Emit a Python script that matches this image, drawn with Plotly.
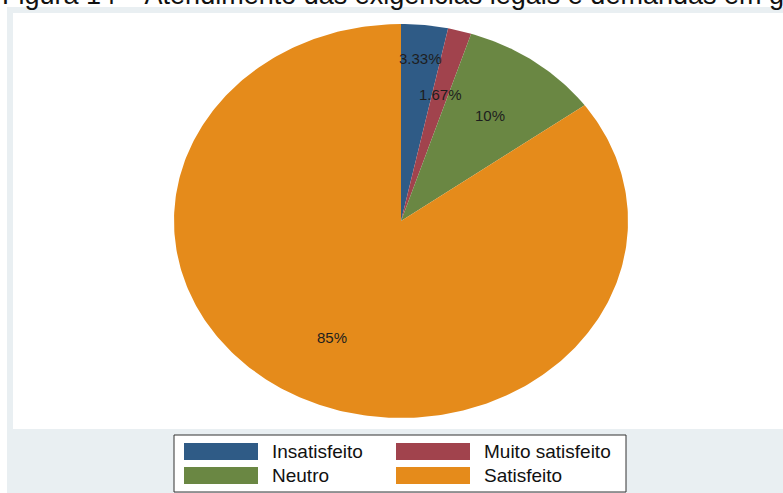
import numpy as np
import plotly.graph_objects as go

# Survey answers and their shares (percent of respondents)
categories = ["Insatisfeito", "Muito satisfeito", "Neutro", "Satisfeito"]
shares = [3.33, 1.67, 10.0, 85.0]
share_labels = ["3.33%", "1.67%", "10%", "85%"]
colors = ["#2f5b86", "#a1434d", "#6a8743", "#e58b1b"]

title_text = "Figura 14 – Atendimento das exigências legais e demandas em geral"

W, H = 783, 493


def px(x):
    return x / W


def py(y):
    return 1 - y / H


fig = go.Figure()

# Slices drawn clockwise from 12 o'clock on a [-1, 1] x [-1, 1] frame
total = sum(shares)
start = 0.0
label_radius = [0.83, 0.665, 0.665, 0.665]
label_pts = []
for cat, val, col in zip(categories, shares, colors):
    a0 = 2 * np.pi * start / total
    a1 = 2 * np.pi * (start + val) / total
    t = np.linspace(a0, a1, max(8, int(400 * val / total)))
    xs = np.concatenate([[0.0], np.sin(t), [0.0]])
    ys = np.concatenate([[0.0], np.cos(t), [0.0]])
    fig.add_trace(go.Scatter(
        x=xs, y=ys, mode="lines", fill="toself", fillcolor=col,
        line=dict(width=0, color=col), name=cat, hoverinfo="name",
        showlegend=False,
    ))
    label_pts.append((a0 + a1) / 2)
    start += val

for i, (mid, txt) in enumerate(zip(label_pts, share_labels)):
    r = label_radius[i]
    fig.add_annotation(
        x=r * np.sin(mid), y=r * np.cos(mid), xref="x", yref="y",
        text=txt, showarrow=False,
        font=dict(size=15, color="#1e1e1e", family="Liberation Sans, Arial"),
    )

shapes = [
    # outer graph region and inner plot region
    dict(type="rect", xref="paper", yref="paper", x0=px(7), x1=px(W + 5),
         y0=py(H + 5), y1=py(7), fillcolor="#e9eff2", line=dict(width=0),
         layer="below"),
    dict(type="rect", xref="paper", yref="paper", x0=px(13), x1=px(W + 5),
         y0=py(429), y1=py(13), fillcolor="#ffffff", line=dict(width=0),
         layer="below"),
    # legend frame
    dict(type="rect", xref="paper", yref="paper", x0=px(174), x1=px(626),
         y0=py(492), y1=py(435), fillcolor="#ffffff",
         line=dict(width=1, color="#333333"), layer="below"),
]

# Legend laid out in two columns
col_x = [184, 396]
row_y = [443, 467]
for i, (cat, col) in enumerate(zip(categories, colors)):
    cx = col_x[i % 2]
    ry = row_y[i // 2]
    shapes.append(dict(type="rect", xref="paper", yref="paper",
                       x0=px(cx), x1=px(cx + 74), y0=py(ry + 17), y1=py(ry),
                       fillcolor=col, line=dict(width=0)))
    fig.add_annotation(
        x=px(cx + 86), y=py(ry + 8.5), xref="paper", yref="paper",
        xanchor="left", yanchor="middle", text=cat, showarrow=False,
        font=dict(size=19, color="#111111", family="Liberation Sans, Arial"),
    )

# Caption line above the graph
fig.add_annotation(
    x=0, y=py(12), xref="paper", yref="paper", xanchor="left",
    yanchor="bottom", text=title_text, showarrow=False,
    font=dict(size=27, color="#111111", family="Liberation Sans, Arial"),
)

fig.update_layout(
    width=W, height=H,
    margin=dict(l=0, r=0, t=0, b=0),
    paper_bgcolor="#ffffff", plot_bgcolor="rgba(0,0,0,0)",
    shapes=shapes, showlegend=False,
    xaxis=dict(domain=[px(174), px(628)], range=[-1, 1], visible=False,
               fixedrange=True),
    yaxis=dict(domain=[py(418), py(24)], range=[-1, 1], visible=False,
               fixedrange=True),
)

fig.write_html("out.html")
